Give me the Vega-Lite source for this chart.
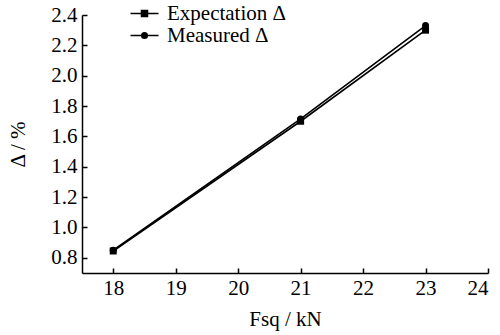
{
  "$schema": "https://vega.github.io/schema/vega-lite/v6.json",
  "autosize": {"type": "none"},
  "padding": {"left": 82, "top": 15, "right": 12, "bottom": 62},
  "width": 406,
  "height": 258,
  "background": "white",
  "config": {
    "font": "Liberation Serif",
    "view": {"stroke": null},
    "axis": {
      "grid": false,
      "domainColor": "black",
      "domainWidth": 1.5,
      "tickColor": "black",
      "tickWidth": 1.5,
      "tickSize": -5,
      "labelFont": "Liberation Serif",
      "labelFontSize": 21,
      "labelColor": "black",
      "labelOverlap": false,
      "titleFont": "Liberation Serif",
      "titleFontSize": 21,
      "titleFontWeight": "normal",
      "titleColor": "black"
    },
    "legend": {"labelFont": "Liberation Serif"}
  },
  "data": {
    "values": [
      {"F": 18, "delta": 0.845, "series": "Expectation Δ"},
      {"F": 21, "delta": 1.700, "series": "Expectation Δ"},
      {"F": 23, "delta": 2.300, "series": "Expectation Δ"},
      {"F": 18, "delta": 0.850, "series": "Measured Δ"},
      {"F": 21, "delta": 1.715, "series": "Measured Δ"},
      {"F": 23, "delta": 2.330, "series": "Measured Δ"}
    ]
  },
  "encoding": {
    "x": {
      "field": "F", "type": "quantitative",
      "scale": {"domain": [17.5, 24], "nice": false, "zero": false},
      "axis": {"values": [18, 19, 20, 21, 22, 23, 24], "format": "d", "labelFont": "Liberation Serif", "titleFont": "Liberation Serif", "labelPadding": 9, "title": "Fsq / kN", "titlePadding": 10}
    },
    "y": {
      "field": "delta", "type": "quantitative",
      "scale": {"domain": [0.7, 2.4], "nice": false, "zero": false},
      "axis": {"values": [0.8, 1.0, 1.2, 1.4, 1.6, 1.8, 2.0, 2.2, 2.4], "format": ".1f", "labelFont": "Liberation Serif", "titleFont": "Liberation Serif", "labelPadding": 10, "title": "Δ / %", "titlePadding": 22}
    }
  },
  "layer": [
    {
      "mark": {"type": "line", "color": "black", "strokeWidth": 1.6},
      "encoding": {
        "detail": {"field": "series"}
      }
    },
    {
      "mark": {"type": "point", "filled": false, "color": "black", "strokeWidth": 1.5, "opacity": 0, "size": 196},
      "encoding": {
        "shape": {
          "field": "series", "type": "nominal",
          "scale": {"domain": ["Expectation Δ", "Measured Δ"], "range": ["M-2,0H2M-0.43,-0.43H0.43V0.43H-0.43ZM-0.22,-0.22H0.22V0.22H-0.22ZM-0.05,-0.05H0.05V0.05H-0.05Z", "M-2,0H2M0.4,0A0.4,0.4,0,1,1,-0.4,0A0.4,0.4,0,1,1,0.4,0ZM0.19,0A0.19,0.19,0,1,1,-0.19,0A0.19,0.19,0,1,1,0.19,0ZM0.04,0A0.04,0.04,0,1,1,-0.04,0A0.04,0.04,0,1,1,0.04,0Z"]},
          "legend": {
            "orient": "none",
            "legendX": 52,
            "legendY": -12,
            "title": null,
            "padding": 0,
            "symbolSize": 196,
            "symbolOpacity": 1,
            "symbolStrokeWidth": 1.5,
            "symbolStrokeColor": "black",
            "labelFont": "Liberation Serif",
            "labelFontSize": 21,
            "labelColor": "black",
            "labelOffset": 12,
            "rowPadding": 0
          }
        }
      }
    },
    {
      "mark": {"type": "point", "filled": true, "color": "black", "opacity": 1, "size": 49},
      "encoding": {
        "shape": {
          "field": "series", "type": "nominal",
          "scale": {"domain": ["Expectation Δ", "Measured Δ"], "range": ["square", "circle"]},
          "legend": null
        }
      }
    }
  ],
  "resolve": {"scale": {"shape": "independent"}, "legend": {"shape": "independent"}}
}
